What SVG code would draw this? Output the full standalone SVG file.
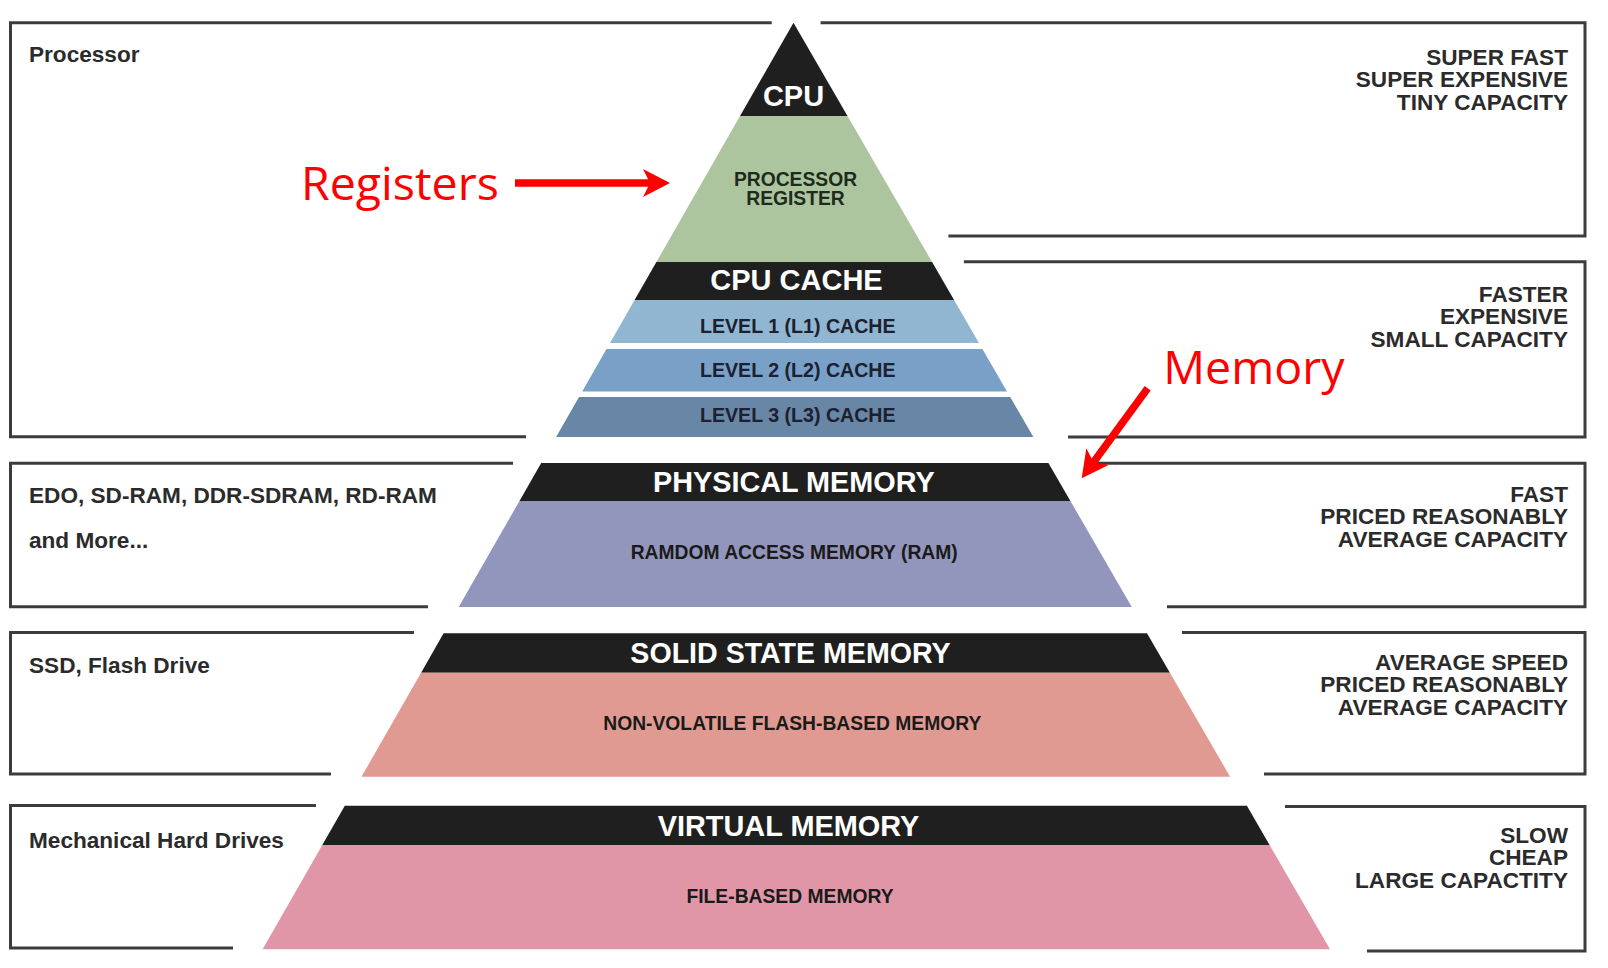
<svg xmlns="http://www.w3.org/2000/svg" width="1608" height="968" viewBox="0 0 1608 968">
  <defs>
    <!-- red arrowhead with a notched back; the line ends at the notch -->
    <marker id="redHead" markerUnits="userSpaceOnUse" markerWidth="27" markerHeight="28" viewBox="0 0 27 28" refX="7" refY="14" orient="auto">
      <path d="M0,0 L27,14 L0,28 L7,14 Z" fill="#ff0000"/>
    </marker>
  </defs>
  <style>
    .frame{fill:none;stroke:#3c3c3c;stroke-width:3;stroke-linejoin:miter}
    .side{font-family:"Liberation Sans",Arial,sans-serif;font-weight:bold;font-size:22.6px;fill:#2b2b2b}
    .rt{text-anchor:end}
    .band{fill:#1f1f1f}
    .title{font-family:"Liberation Sans",Arial,sans-serif;font-weight:bold;font-size:29px;fill:#ffffff;text-anchor:middle}
    .sub{font-family:"Liberation Sans",Arial,sans-serif;font-weight:bold;font-size:19.3px;fill:#1a1a1a;text-anchor:middle}
    .note{font-family:"Open Sans","Liberation Sans",sans-serif;font-size:46.5px;fill:#ff0000}
    .arrow{fill:none;stroke:#ff0000;stroke-width:7.5;marker-end:url(#redHead)}
  </style>

  <rect x="0" y="0" width="1608" height="968" fill="#ffffff"/>

  <!-- side label frames -->
  <g id="label-processor">
    <path class="frame" d="M771.7,22.7 H10.5 V436.7 H526"/>
    <text class="side" x="29" y="62">Processor</text>
  </g>
  <g id="label-cpu-speed">
    <path class="frame" d="M820.6,22.7 H1585 V236 H948.4"/>
    <text class="side rt" x="1568" y="64.5">SUPER FAST</text>
    <text class="side rt" x="1568" y="87">SUPER EXPENSIVE</text>
    <text class="side rt" x="1568" y="109.5">TINY CAPACITY</text>
  </g>
  <g id="label-cache-speed">
    <path class="frame" d="M963.9,261.7 H1585 V437 H1068"/>
    <text class="side rt" x="1568" y="301.5">FASTER</text>
    <text class="side rt" x="1568" y="324">EXPENSIVE</text>
    <text class="side rt" x="1568" y="346.5">SMALL CAPACITY</text>
  </g>
  <g id="label-ram-types">
    <path class="frame" d="M513,463.3 H10.5 V606.7 H428"/>
    <text class="side" x="29" y="502.7">EDO, SD-RAM, DDR-SDRAM, RD-RAM</text>
    <text class="side" x="29" y="547.7">and More...</text>
  </g>
  <g id="label-ram-speed">
    <path class="frame" d="M1085,463.3 H1585 V606.7 H1167"/>
    <text class="side rt" x="1568" y="501.5">FAST</text>
    <text class="side rt" x="1568" y="524">PRICED REASONABLY</text>
    <text class="side rt" x="1568" y="546.5">AVERAGE CAPACITY</text>
  </g>
  <g id="label-ssd-types">
    <path class="frame" d="M414,632.5 H10.5 V774 H331"/>
    <text class="side" x="29" y="673">SSD, Flash Drive</text>
  </g>
  <g id="label-ssd-speed">
    <path class="frame" d="M1182,632.5 H1585 V774 H1264"/>
    <text class="side rt" x="1568" y="669.5">AVERAGE SPEED</text>
    <text class="side rt" x="1568" y="692">PRICED REASONABLY</text>
    <text class="side rt" x="1568" y="714.5">AVERAGE CAPACITY</text>
  </g>
  <g id="label-hdd-types">
    <path class="frame" d="M316,805.5 H10.5 V948 H233"/>
    <text class="side" x="29" y="848">Mechanical Hard Drives</text>
  </g>
  <g id="label-hdd-speed">
    <path class="frame" d="M1285,806.5 H1585 V951 H1367"/>
    <text class="side rt" x="1568" y="842.7">SLOW</text>
    <text class="side rt" x="1568" y="865">CHEAP</text>
    <text class="side rt" x="1568" y="887.7">LARGE CAPACTITY</text>
  </g>

  <!-- pyramid tiers -->
  <g id="tier-cpu">
    <polygon class="band" points="793.5,22.7 847.5,116 740,116"/>
    <text class="title" x="793.5" y="106">CPU</text>
  </g>
  <g id="tier-register">
    <polygon points="740,116 847.5,116 932.1,262 656.4,262" fill="#adc59e"/>
    <text class="sub" x="795.5" y="185.7" fill="#1c2b1c" style="fill:#1c2b1c">PROCESSOR</text>
    <text class="sub" x="795.5" y="205.3" style="fill:#1c2b1c">REGISTER</text>
  </g>
  <g id="tier-cache">
    <polygon class="band" points="656.4,262 932.1,262 954.1,300 634.6,300"/>
    <text class="title" x="796.5" y="290">CPU CACHE</text>
  </g>
  <g id="tier-l1">
    <polygon points="634.6,300 954.1,300 979,343 610,343" fill="#91b6d2"/>
    <text class="sub" x="797.8" y="332.7" style="font-size:19.6px;fill:#1b2130">LEVEL 1 (L1) CACHE</text>
  </g>
  <g id="tier-l2">
    <polygon points="606.5,349 982.4,349 1007,391.5 582.2,391.5" fill="#79a0c7"/>
    <text class="sub" x="797.8" y="376.7" style="font-size:19.6px;fill:#1b2130">LEVEL 2 (L2) CACHE</text>
  </g>
  <g id="tier-l3">
    <polygon points="579,397 1010.2,397 1033.4,437 556.1,437" fill="#6886a6"/>
    <text class="sub" x="797.8" y="422.3" style="font-size:19.6px;fill:#1b2130">LEVEL 3 (L3) CACHE</text>
  </g>
  <g id="tier-physical">
    <polygon class="band" points="541.2,463 1048.4,463 1070.7,501.5 519.2,501.5"/>
    <polygon points="519.2,501.5 1070.7,501.5 1131.8,607 458.7,607" fill="#9295bc"/>
    <text class="title" x="793.8" y="492.3" style="font-size:28.8px">PHYSICAL MEMORY</text>
    <text class="sub" x="794.2" y="559.3">RAMDOM ACCESS MEMORY (RAM)</text>
  </g>
  <g id="tier-solid-state">
    <polygon class="band" points="443.6,633.3 1147,633.3 1169.9,672.7 421.1,672.7"/>
    <polygon points="421.1,672.7 1169.9,672.7 1230.1,776.7 361.5,776.7" fill="#e19a91"/>
    <text class="title" x="790.5" y="662.7" style="font-size:28.6px">SOLID STATE MEMORY</text>
    <text class="sub" x="792.3" y="730">NON-VOLATILE FLASH-BASED MEMORY</text>
  </g>
  <g id="tier-virtual">
    <polygon class="band" points="344.8,805.7 1246.9,805.7 1269.6,845 322.3,845"/>
    <polygon points="322.3,845 1269.6,845 1330,949.3 262.6,949.3" fill="#e196a8"/>
    <text class="title" x="788.5" y="836" style="font-size:28.9px">VIRTUAL MEMORY</text>
    <text class="sub" x="790" y="903.3">FILE-BASED MEMORY</text>
  </g>

  <!-- red callouts -->
  <g id="note-registers">
    <text class="note" x="301" y="200">Registers</text>
  </g>
  <g id="note-memory">
    <text class="note" x="1163.3" y="384">Memory</text>
  </g>

  <g id="connectors">
    <line class="arrow" x1="515" y1="183" x2="650" y2="183"/>
    <line class="arrow" x1="1147.7" y1="388.3" x2="1093.5" y2="462.2"/>
  </g>
</svg>
